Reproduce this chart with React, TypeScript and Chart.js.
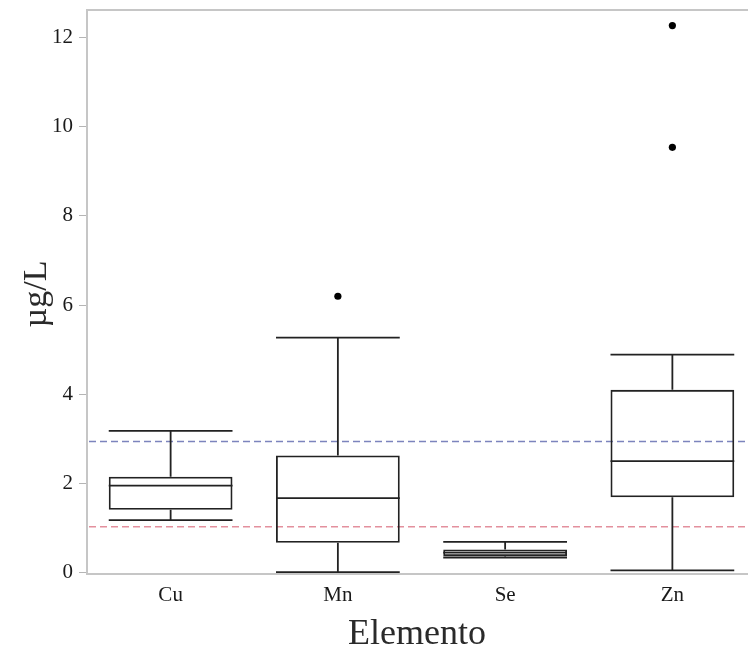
import React, { useEffect, useRef } from "react";
import { Chart, registerables } from "chart.js";

Chart.register(...registerables);

// Trace-element concentrations per element (µg/L), five-number summaries
const elements = ["Cu", "Mn", "Se", "Zn"];
const whiskerLow = [1.18, 0.01, 0.34, 0.05];
const quartile1 = [1.41, 0.67, 0.37, 1.69];
const medians = [1.95, 1.67, 0.45, 2.5];
const quartile3 = [2.15, 2.63, 0.52, 4.1];
const whiskerHigh = [3.18, 5.27, 0.69, 4.89];

// Points beyond the whiskers
const outlierElements = ["Mn", "Zn", "Zn"];
const outlierValues = [6.2, 9.54, 12.27];

// Horizontal reference limits
const upperLimit = 2.94;
const lowerLimit = 1.03;

const yTicks = [0, 2, 4, 6, 8, 10, 12];

const SERIF = "'Liberation Serif', 'Times New Roman', serif";
const FRAME = "#c6c6c6";
const INK = "#222";

const boxPlotExtras = {
  id: "boxPlotExtras",
  beforeDatasetsDraw(chart: any) {
    const { ctx, chartArea, scales } = chart;
    const y = scales.y;
    const drawRef = (v: number, color: string) => {
      const py = y.getPixelForValue(v);
      ctx.save();
      ctx.strokeStyle = color;
      ctx.lineWidth = 1.5;
      ctx.setLineDash([7, 4]);
      ctx.beginPath();
      ctx.moveTo(chartArea.left + 2, py);
      ctx.lineTo(chartArea.right, py);
      ctx.stroke();
      ctx.restore();
    };
    drawRef(upperLimit, "#7c84bd");
    drawRef(lowerLimit, "#e3909d");
  },
  afterDatasetsDraw(chart: any) {
    const { ctx, scales } = chart;
    const x = scales.x;
    const y = scales.y;
    const bars = chart.getDatasetMeta(0).data;
    ctx.save();
    ctx.strokeStyle = INK;
    ctx.lineWidth = 1.8;
    elements.forEach((_, i) => {
      const cx = x.getPixelForValue(i);
      const half = bars[i].width / 2;
      const pLow = y.getPixelForValue(whiskerLow[i]);
      const pQ1 = y.getPixelForValue(quartile1[i]);
      const pMed = y.getPixelForValue(medians[i]);
      const pQ3 = y.getPixelForValue(quartile3[i]);
      const pHigh = y.getPixelForValue(whiskerHigh[i]);
      ctx.beginPath();
      // stems
      ctx.moveTo(cx, pQ3);
      ctx.lineTo(cx, pHigh);
      ctx.moveTo(cx, pQ1);
      ctx.lineTo(cx, pLow);
      // caps
      ctx.moveTo(cx - half, pHigh);
      ctx.lineTo(cx + half, pHigh);
      ctx.moveTo(cx - half, pLow);
      ctx.lineTo(cx + half, pLow);
      // median
      ctx.moveTo(cx - half, pMed);
      ctx.lineTo(cx + half, pMed);
      ctx.stroke();
    });
    ctx.restore();
  },
  afterDraw(chart: any) {
    const { ctx, chartArea } = chart;
    ctx.save();
    // top edge of the frame
    ctx.strokeStyle = FRAME;
    ctx.lineWidth = 2;
    ctx.beginPath();
    ctx.moveTo(chartArea.left - 1, chartArea.top);
    ctx.lineTo(chartArea.right, chartArea.top);
    ctx.stroke();

    // axis titles
    ctx.fillStyle = "#2a2a2a";
    ctx.textAlign = "center";
    ctx.textBaseline = "alphabetic";
    ctx.font = `36px ${SERIF}`;
    ctx.fillText("Elemento", 417, 644);

    ctx.translate(46, 294);
    ctx.rotate(-Math.PI / 2);
    ctx.font = `34px ${SERIF}`;
    ctx.fillText("µg/L", 0, 0);
    ctx.restore();
  },
};

export default function App() {
  const canvasRef = useRef<HTMLCanvasElement | null>(null);

  useEffect(() => {
    const canvas = canvasRef.current;
    if (!canvas) return;
    const chart = new Chart(canvas, {
      type: "bar",
      data: {
        labels: elements,
        datasets: [
          {
            type: "bar",
            data: elements.map((_, i) => [quartile1[i], quartile3[i]]),
            backgroundColor: "rgba(255,255,255,0)",
            borderColor: INK,
            borderWidth: 1.8,
            borderSkipped: false,
            categoryPercentage: 1,
            barPercentage: 0.74,
          } as any,
          {
            type: "scatter",
            data: outlierElements.map((e, i) => ({ x: e, y: outlierValues[i] })),
            backgroundColor: "#000",
            borderWidth: 0,
            pointRadius: 3.6,
          } as any,
        ],
      },
      plugins: [boxPlotExtras],
      options: {
        animation: false,
        responsive: false,
        devicePixelRatio: 1,
        layout: { padding: { top: 10, right: 3, left: 0, bottom: 0 } },
        plugins: { legend: { display: false }, tooltip: { enabled: false } },
        scales: {
          x: {
            type: "category",
            offset: true,
            grid: { display: false, drawTicks: false },
            border: { display: true, color: FRAME, width: 2 },
            ticks: {
              color: "#1a1a1a",
              padding: 9,
              font: { family: SERIF, size: 21 },
            },
            afterFit(axis: any) {
              axis.height = 81;
              axis.paddingLeft = 0;
              axis.paddingRight = 0;
            },
          },
          y: {
            min: -0.03,
            max: 12.62,
            afterBuildTicks(axis: any) {
              axis.ticks = yTicks.map((v) => ({ value: v }));
            },
            grid: {
              display: true,
              drawOnChartArea: false,
              drawTicks: true,
              tickLength: 8,
              color: "#b5b5b5",
              lineWidth: 1,
            },
            border: { display: true, color: FRAME, width: 2 },
            ticks: {
              color: "#1a1a1a",
              padding: 6,
              font: { family: SERIF, size: 21 },
            },
            afterFit(axis: any) {
              axis.width = 87;
              axis.paddingTop = 0;
              axis.paddingBottom = 0;
            },
          },
        },
      } as any,
    });
    return () => chart.destroy();
  }, []);

  return (
    <div
      style={{
        position: "fixed",
        left: 0,
        top: 0,
        width: 748,
        height: 655,
        overflow: "hidden",
        background: "#fff",
      }}
    >
      <canvas ref={canvasRef} width={760} height={655} style={{ display: "block" }} />
    </div>
  );
}
